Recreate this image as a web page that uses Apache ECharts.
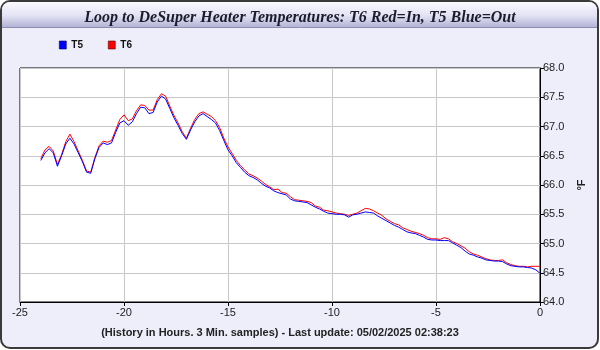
<!DOCTYPE html>
<html>
<head>
<meta charset="utf-8">
<script src="https://cdn.jsdelivr.net/npm/echarts@6/dist/echarts.min.js"></script>
<style>
  html, body { margin: 0; padding: 0; background: #ffffff; }
  #chart { width: 600px; height: 350px; }
</style>
</head>
<body>
<div id="chart"></div>
<script>
// Temperatures sampled every 0.2 h, the last sample at 0 h (now).
const sampleStepHours = 0.2;

// T5: DeSuper heater outlet (blue)
const t5Values = [
  66.42, 66.55, 66.62, 66.55, 66.32, 66.50, 66.70, 66.80, 66.70, 66.55,
  66.40, 66.22, 66.20, 66.45, 66.64, 66.72, 66.69, 66.72, 66.90, 67.06,
  67.10, 67.02, 67.08, 67.22, 67.33, 67.32, 67.22, 67.24, 67.42, 67.52,
  67.47, 67.31, 67.15, 67.02, 66.88, 66.78, 66.94, 67.08, 67.18, 67.22,
  67.17, 67.12, 67.06, 66.93, 66.76, 66.60, 66.50, 66.38, 66.30, 66.22,
  66.16, 66.13, 66.09, 66.03, 65.98, 65.95, 65.90, 65.87, 65.85, 65.83,
  65.76, 65.73, 65.72, 65.71, 65.70, 65.66, 65.62, 65.59, 65.55, 65.52,
  65.51, 65.50, 65.50, 65.49, 65.45, 65.49, 65.50, 65.52, 65.54, 65.53,
  65.52, 65.47, 65.43, 65.39, 65.35, 65.31, 65.28, 65.24, 65.20, 65.18,
  65.17, 65.14, 65.11, 65.07, 65.06, 65.06, 65.05, 65.05, 65.05, 65.01,
  64.97, 64.93, 64.87, 64.82, 64.80, 64.77, 64.75, 64.72, 64.71, 64.70,
  64.70, 64.69, 64.65, 64.62, 64.61, 64.60, 64.60, 64.59, 64.58, 64.55,
  64.49
];

// T6: DeSuper heater inlet (red)
const t6Values = [
  66.45, 66.60, 66.66, 66.58, 66.35, 66.52, 66.74, 66.87, 66.74, 66.58,
  66.42, 66.24, 66.22, 66.47, 66.67, 66.75, 66.73, 66.76, 66.94, 67.12,
  67.20, 67.10, 67.13, 67.27, 67.37, 67.36, 67.28, 67.28, 67.46, 67.56,
  67.52, 67.35, 67.19, 67.06, 66.91, 66.80, 66.97, 67.12, 67.22, 67.25,
  67.21, 67.17, 67.10, 66.98, 66.80, 66.65, 66.54, 66.42, 66.33, 66.26,
  66.19, 66.16, 66.12, 66.07, 66.01, 65.97, 65.92, 65.93, 65.87, 65.86,
  65.80, 65.75, 65.74, 65.73, 65.72, 65.70, 65.64, 65.62, 65.57, 65.56,
  65.54, 65.52, 65.51, 65.50, 65.48, 65.50, 65.52, 65.56, 65.60, 65.59,
  65.56, 65.52, 65.48, 65.42, 65.38, 65.34, 65.32, 65.27, 65.24, 65.21,
  65.19, 65.17, 65.14, 65.10, 65.08, 65.08, 65.07, 65.10, 65.08, 65.03,
  65.00, 64.96, 64.92, 64.86, 64.82, 64.80, 64.77, 64.74, 64.72, 64.71,
  64.71, 64.72, 64.67, 64.64, 64.62, 64.61, 64.61, 64.60, 64.61, 64.61,
  64.61
];

const xTicks = { min: -25, max: 0, interval: 5 };
const yTicks = { min: 64, max: 68, interval: 0.5 };

const titleText = 'Loop to DeSuper Heater Temperatures: T6 Red=In, T5 Blue=Out';
const xAxisTitle = '(History in Hours. 3 Min. samples) - Last update: 05/02/2025 02:38:23';
const yAxisTitle = '°F';

function toPairs(values) {
  const n = values.length;
  return values.map((v, i) => [+((i - (n - 1)) * sampleStepHours).toFixed(2), v]);
}

const chart = echarts.init(document.getElementById('chart'), null, { renderer: 'canvas' });

chart.setOption({
  animation: false,
  backgroundColor: '#ffffff',
  graphic: [
    {
      type: 'rect', z: -10, silent: true,
      shape: { x: 1, y: 1, width: 597, height: 347, r: 9 },
      style: { fill: '#eeeefb', stroke: '#3a3a3a', lineWidth: 2 }
    },
    {
      type: 'rect', z: -9, silent: true,
      shape: { x: 2, y: 2, width: 595, height: 25, r: [8, 8, 0, 0] },
      style: {
        fill: new echarts.graphic.LinearGradient(0, 0, 0, 1, [
          { offset: 0, color: '#fbfbff' },
          { offset: 0.55, color: '#e2e2f4' },
          { offset: 1, color: '#b4b4d6' }
        ])
      }
    },
    {
      type: 'line', z: -8, silent: true,
      shape: { x1: 2, y1: 27.5, x2: 597, y2: 27.5 },
      style: { stroke: '#8e8eb0', lineWidth: 1 }
    }
  ],
  title: {
    text: titleText,
    left: 'center',
    top: 5,
    textStyle: {
      fontFamily: 'Liberation Serif',
      fontStyle: 'italic',
      fontWeight: 'bold',
      fontSize: 16,
      color: '#1c1c2c'
    }
  },
  legend: {
    left: 54,
    top: 35,
    icon: 'rect',
    itemWidth: 7,
    itemHeight: 8,
    itemGap: 25,
    textStyle: {
      fontFamily: 'Liberation Sans',
      fontWeight: 'bold',
      fontSize: 10,
      color: '#111'
    },
    data: [
      { name: 'T5', itemStyle: { color: '#0000ff', borderColor: '#000055', borderWidth: 0.6 } },
      { name: 'T6', itemStyle: { color: '#ff0000', borderColor: '#550000', borderWidth: 0.6 } }
    ]
  },
  grid: {
    left: 20,
    right: 60,
    top: 68,
    bottom: 48,
    show: true,
    backgroundColor: '#ffffff',
    borderColor: '#000000',
    borderWidth: 1
  },
  xAxis: {
    type: 'value',
    min: xTicks.min,
    max: xTicks.max,
    interval: xTicks.interval,
    name: xAxisTitle,
    nameLocation: 'middle',
    nameGap: 25,
    nameTextStyle: {
      fontFamily: 'Liberation Sans',
      fontWeight: 'bold',
      fontSize: 11,
      color: '#222'
    },
    axisLine: { lineStyle: { color: '#000', width: 1 } },
    axisTick: { length: 4, lineStyle: { color: '#000' } },
    axisLabel: {
      fontFamily: 'Liberation Sans',
      fontSize: 11,
      color: '#222',
      margin: 5
    },
    splitLine: { show: true, lineStyle: { color: '#c8c8c8', width: 1 } }
  },
  yAxis: {
    type: 'value',
    position: 'right',
    min: yTicks.min,
    max: yTicks.max,
    interval: yTicks.interval,
    name: yAxisTitle,
    nameLocation: 'middle',
    nameRotate: 90,
    nameGap: 36,
    nameTextStyle: {
      fontFamily: 'Liberation Sans',
      fontWeight: 'bold',
      fontSize: 11,
      color: '#222'
    },
    axisLine: { show: true, lineStyle: { color: '#000', width: 1 } },
    axisTick: { show: true, length: 4, lineStyle: { color: '#000' } },
    axisLabel: {
      fontFamily: 'Liberation Sans',
      fontSize: 11,
      color: '#222',
      margin: 3,
      formatter: v => v.toFixed(1)
    },
    splitLine: { show: true, lineStyle: { color: '#c8c8c8', width: 1 } }
  },
  series: [
    {
      name: 'T6',
      type: 'line',
      data: toPairs(t6Values),
      showSymbol: false,
      lineStyle: { color: '#ff0000', width: 1 },
      itemStyle: { color: '#ff0000' },
      z: 2
    },
    {
      name: 'T5',
      type: 'line',
      data: toPairs(t5Values),
      showSymbol: false,
      lineStyle: { color: '#0000ff', width: 1 },
      itemStyle: { color: '#0000ff' },
      z: 3
    }
  ]
});
</script>
</body>
</html>
